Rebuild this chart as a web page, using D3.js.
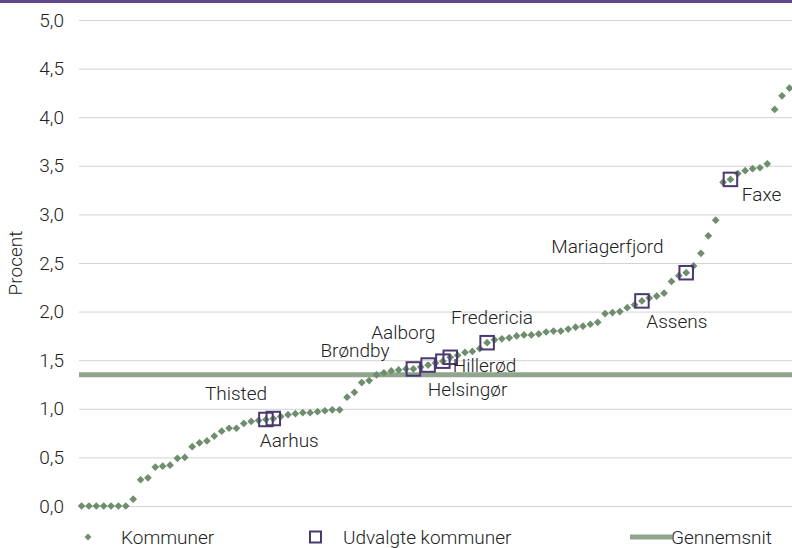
<!DOCTYPE html>
<html><head><meta charset="utf-8">
<script src="https://cdn.jsdelivr.net/npm/d3@7"></script>
<style>
body{margin:0;background:#fff}
svg{display:block}
text{font-family:Roboto, "Noto Sans", sans-serif; font-weight:300}
</style>
</head><body><div id="chart"></div>
<script>
// ---------- data ----------
const values = [
  0.00,0.00,0.00,0.00,0.00,0.00,0.00,0.07,0.27,0.29,
  0.40,0.41,0.42,0.49,0.50,0.61,0.65,0.67,0.72,0.77,
  0.80,0.80,0.85,0.87,0.88,0.89,0.90,0.92,0.94,0.95,
  0.96,0.96,0.97,0.98,0.99,0.99,1.12,1.17,1.27,1.29,
  1.35,1.37,1.39,1.40,1.41,1.41,1.43,1.45,1.47,1.49,
  1.53,1.55,1.58,1.59,1.62,1.68,1.71,1.72,1.73,1.75,
  1.76,1.76,1.77,1.79,1.80,1.80,1.82,1.84,1.85,1.87,
  1.89,1.98,1.99,2.00,2.04,2.07,2.11,2.14,2.16,2.19,
  2.31,2.37,2.40,2.47,2.60,2.78,2.94,3.33,3.36,3.42,
  3.45,3.47,3.48,3.52,4.08,4.22,4.30
];
const selectedNames = ["Thisted","Aarhus","Brøndby","Aalborg","Helsingør","Hillerød","Fredericia","Assens","Mariagerfjord","Faxe"];
const selectedIndex = [25,26,45,47,49,50,55,76,82,88];
const average = 1.35;
const yTicks = [0,0.5,1,1.5,2,2.5,3,3.5,4,4.5,5];
const yAxisTitle = "Procent";
const legendLabels = ["Kommuner","Udvalgte kommuner","Gennemsnit"];

// ---------- layout (positions & styles) ----------
const W = 792, H = 548;
const plot = {left: 79, right: 792, top: 20, bottom: 506};
const labelOffset = {           // text start relative to the marked point
  "Thisted":[-61,-19.5], "Aarhus":[-13.5,28], "Brøndby":[-93,-12], "Aalborg":[-57,-26],
  "Helsingør":[-15,35], "Hillerød":[2.5,14.5], "Fredericia":[-36,-18.5],
  "Assens":[4.3,27], "Mariagerfjord":[-135,-19.7], "Faxe":[11.4,21.6]
};
const C = {dot:"#6e8e6d", avg:"#8fa58d", box:"#4b3872", grid:"#d3d3d3", text:"#222222", bar:"#5e4a8a"};
const FS = 19;

const svg = d3.select("#chart").append("svg").attr("width", W).attr("height", H);

svg.append("rect").attr("x",0).attr("y",0).attr("width",W).attr("height",3).attr("fill",C.bar);

const x = d3.scalePoint().domain(d3.range(values.length)).range([plot.left, plot.right]).padding(0.35);
const y = d3.scaleLinear().domain([0,5]).range([plot.bottom, plot.top]);

const loc = d3.formatLocale({decimal:",", thousands:".", grouping:[3], currency:["","kr"]});
const fmt = loc.format(".1f");

const yAxis = svg.append("g").attr("transform",`translate(${plot.left},0)`)
  .call(d3.axisLeft(y).tickValues(yTicks).tickFormat(fmt).tickSize(-(plot.right-plot.left)).tickPadding(15));
yAxis.select(".domain").remove();
yAxis.selectAll(".tick line").attr("stroke",C.grid).attr("stroke-width",1);
yAxis.selectAll(".tick text").attr("fill",C.text).style("font-size",FS+"px")
  .style("font-family","Roboto").style("font-weight","300");

svg.append("text").attr("transform",`translate(22,263) rotate(-90)`).attr("text-anchor","middle")
  .attr("fill",C.text).style("font-size","19px").text(yAxisTitle);

// average line
svg.append("line").attr("x1",plot.left).attr("x2",plot.right)
  .attr("y1",y(average)).attr("y2",y(average)).attr("stroke",C.avg).attr("stroke-width",5);

// diamonds
const diamond = d3.symbol().type(d3.symbolDiamond2).size(38);
svg.append("g").selectAll("path").data(values).join("path")
  .attr("d",diamond).attr("fill",C.dot)
  .attr("transform",(d,i)=>`translate(${x(i)},${y(d)})`);

// selected boxes
const boxS = 13.5;
svg.append("g").selectAll("rect").data(selectedIndex).join("rect")
  .attr("x",i=>x(i)-boxS/2).attr("y",i=>y(values[i])-boxS/2)
  .attr("width",boxS).attr("height",boxS)
  .attr("fill","none").attr("stroke",C.box).attr("stroke-width",2);

// labels
svg.append("g").selectAll("text").data(selectedNames).join("text")
  .attr("x",(n,k)=>x(selectedIndex[k])+labelOffset[n][0])
  .attr("y",(n,k)=>y(values[selectedIndex[k]])+labelOffset[n][1])
  .attr("fill",C.text).style("font-size",FS+"px").text(n=>n);

// legend
const lg = svg.append("g");
const ly = 537;
lg.append("path").attr("d",d3.symbol().type(d3.symbolDiamond2).size(30)).attr("fill",C.dot)
  .attr("transform",`translate(88,${ly})`);
lg.append("text").attr("x",121).attr("y",ly+7).attr("fill",C.text).style("font-size",FS+"px").text(legendLabels[0]);
lg.append("rect").attr("x",310).attr("y",ly-5.5).attr("width",11).attr("height",11)
  .attr("fill","none").attr("stroke",C.box).attr("stroke-width",2);
lg.append("text").attr("x",343).attr("y",ly+7).attr("fill",C.text).style("font-size",FS+"px").text(legendLabels[1]);
lg.append("line").attr("x1",630).attr("x2",672).attr("y1",ly).attr("y2",ly).attr("stroke",C.avg).attr("stroke-width",5);
lg.append("text").attr("x",671).attr("y",ly+7).attr("fill",C.text).style("font-size",FS+"px").text(legendLabels[2]);
</script>
</body></html>
